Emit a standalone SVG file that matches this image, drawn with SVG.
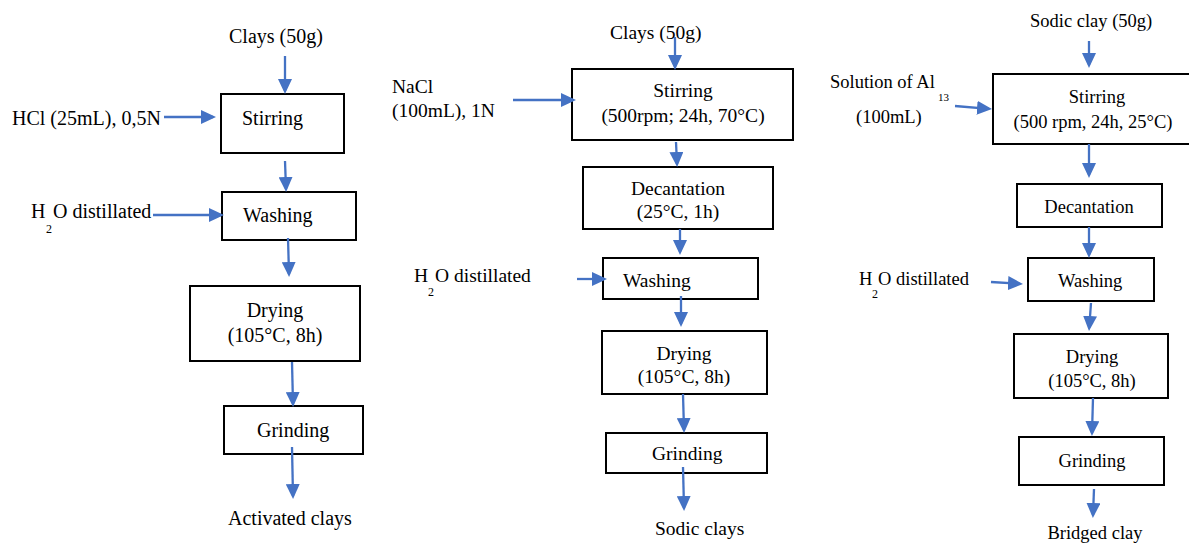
<svg xmlns="http://www.w3.org/2000/svg" width="1189" height="544" viewBox="0 0 1189 544" font-family="'Liberation Serif', 'DejaVu Serif', serif">
<style>
text{font-family:'Liberation Serif','DejaVu Serif',serif;fill:#000}
.c1{font-size:20px}
.c2{font-size:19.5px}
.c3{font-size:18.5px}
.sub{font-size:12px}
.sub3{font-size:11px}
.m{text-anchor:middle}
rect{fill:#fff;stroke:#000;stroke-width:2}
.arr path{fill:none;stroke:#4472C4;stroke-width:2.3;marker-end:url(#ah)}
</style>
<defs>
<marker id="ah" markerUnits="userSpaceOnUse" markerWidth="15" markerHeight="14" refX="12" refY="7" orient="auto">
<path d="M0,0 L15,7 L0,14 z" fill="#4472C4"/>
</marker>
</defs>
<rect x="0" y="0" width="1189" height="544" style="stroke:none"/>

<!-- Column 1 -->
<g id="c1-input"><text class="c1" x="229" y="43">Clays (50g)</text></g>
<g id="c1-hcl"><text class="c1" x="12" y="125">HCl (25mL), 0,5N</text></g>
<g id="c1-stirring"><rect x="221" y="94" width="123" height="59"/><text class="c1" x="242" y="125">Stirring</text></g>
<g id="c1-h2o"><text class="c1" x="31" y="218">H</text><text class="sub" x="46" y="233">2</text><text class="c1" x="53" y="218">O distillated</text></g>
<g id="c1-washing"><rect x="222" y="192" width="134" height="48"/><text class="c1" x="243" y="222">Washing</text></g>
<g id="c1-drying"><rect x="190" y="286" width="170" height="75"/><text class="c1 m" x="275" y="317">Drying</text><text class="c1 m" x="275" y="342">(105°C, 8h)</text></g>
<g id="c1-grinding"><rect x="224" y="406" width="139" height="48"/><text class="c1" x="257" y="437">Grinding</text></g>
<g id="c1-output"><text class="c1" x="228" y="525">Activated clays</text></g>

<!-- Column 2 -->
<g id="c2-input"><text class="c2" x="610" y="39">Clays (50g)</text></g>
<g id="c2-nacl"><text class="c2" x="392" y="93">NaCl</text><text class="c2" x="392" y="117">(100mL), 1N</text></g>
<g id="c2-stirring"><rect x="572" y="69" width="221" height="71"/><text class="c2 m" x="683" y="97">Stirring</text><text class="c2 m" x="683" y="122">(500rpm; 24h, 70°C)</text></g>
<g id="c2-decantation"><rect x="583" y="167" width="190" height="62"/><text class="c2 m" x="678" y="195">Decantation</text><text class="c2 m" x="678" y="218">(25°C, 1h)</text></g>
<g id="c2-h2o"><text class="c2" x="414" y="282">H</text><text class="sub" x="428" y="296">2</text><text class="c2" x="435" y="282">O distillated</text></g>
<g id="c2-washing"><rect x="603" y="258" width="155" height="41"/><text class="c2" x="623" y="287">Washing</text></g>
<g id="c2-drying"><rect x="602" y="331" width="165" height="63"/><text class="c2 m" x="684" y="360">Drying</text><text class="c2 m" x="684" y="383">(105°C, 8h)</text></g>
<g id="c2-grinding"><rect x="606" y="433" width="161" height="40"/><text class="c2" x="652" y="460">Grinding</text></g>
<g id="c2-output"><text class="c2" x="655" y="535">Sodic clays</text></g>

<!-- Column 3 -->
<g id="c3-input"><text class="c3" x="1030" y="27">Sodic clay (50g)</text></g>
<g id="c3-al"><text class="c3" x="830" y="88">Solution of Al</text><text class="sub3" x="938" y="101">13</text><text class="c3" x="856" y="123">(100mL)</text></g>
<g id="c3-stirring"><rect x="993" y="74" width="200" height="70"/><text class="c3 m" x="1097" y="103">Stirring</text><text class="c3 m" x="1093" y="128">(500 rpm, 24h, 25°C)</text></g>
<g id="c3-decantation"><rect x="1017" y="184" width="145" height="43"/><text class="c3 m" x="1089" y="213">Decantation</text></g>
<g id="c3-h2o"><text class="c3" x="859" y="285">H</text><text class="sub" x="872" y="298">2</text><text class="c3" x="878" y="285">O distillated</text></g>
<g id="c3-washing"><rect x="1028" y="258" width="126" height="43"/><text class="c3" x="1058" y="287">Washing</text></g>
<g id="c3-drying"><rect x="1014" y="334" width="154" height="64"/><text class="c3 m" x="1092" y="363">Drying</text><text class="c3 m" x="1092" y="387">(105°C, 8h)</text></g>
<g id="c3-grinding"><rect x="1019" y="437" width="145" height="48"/><text class="c3 m" x="1092" y="467">Grinding</text></g>
<g id="c3-output"><text class="c3 m" x="1095" y="539">Bridged clay</text></g>

<!-- Connectors -->
<g id="connectors" class="arr">
<path d="M285,56 L285,91"/>
<path d="M164,117 L213,117"/>
<path d="M285,161 L286,189"/>
<path d="M153,215 L221,215"/>
<path d="M288,238 L289,274"/>
<path d="M292,362 L293,404"/>
<path d="M292,447 L293,496"/>

<path d="M675,37 L675,67"/>
<path d="M513,100 L573,100"/>
<path d="M676,142 L677,164"/>
<path d="M680,229 L680,252"/>
<path d="M577,279 L604,279"/>
<path d="M681,296 L681,324"/>
<path d="M683,394 L684,430"/>
<path d="M683,467 L684,508"/>

<path d="M1089,41 L1089,65"/>
<path d="M955,106 L989,108.8"/>
<path d="M1089,144 L1089,175"/>
<path d="M1089,227 L1089,255"/>
<path d="M991,282 L1020,283.8"/>
<path d="M1091,303 L1089.2,328"/>
<path d="M1093,398 L1092,433"/>
<path d="M1094,489 L1093,515"/>
</g>
</svg>
